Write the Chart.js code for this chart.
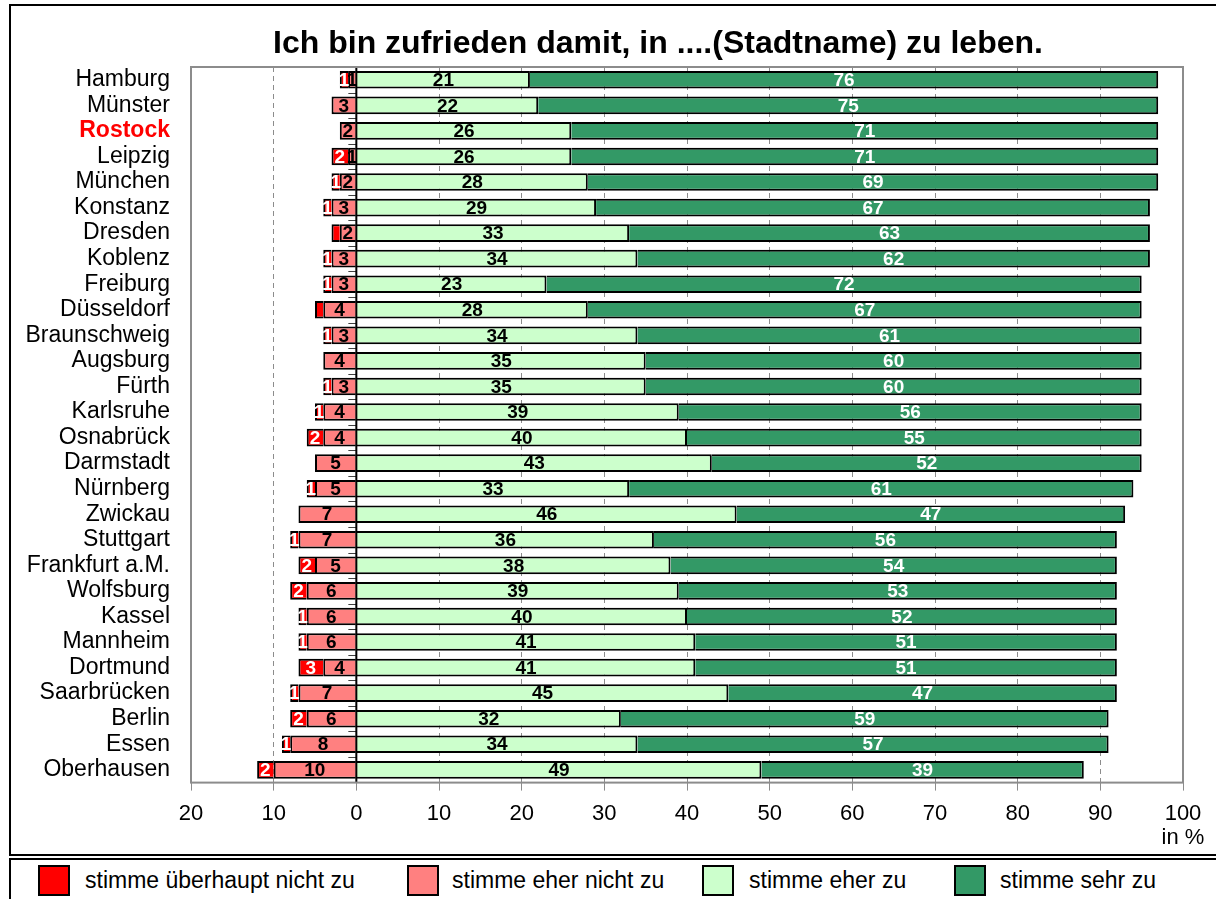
<!DOCTYPE html>
<html lang="de">
<head>
<meta charset="utf-8">
<title>Ich bin zufrieden damit, in ....(Stadtname) zu leben.</title>
<script src="https://cdn.jsdelivr.net/npm/chart.js@4.4.1/dist/chart.umd.min.js"></script>
<style>
  html, body { margin: 0; padding: 0; background: #fff; width: 1216px; height: 899px; overflow: hidden; }
  #wrap { position: relative; width: 1216px; height: 899px; overflow: hidden; font-family: "Liberation Sans", Arial, sans-serif; }
  #chart { position: absolute; left: 0; top: 0; }
  #title { position: absolute; left: 258px; width: 800px; top: 23px; text-align: center; font-weight: bold; font-size: 32px; line-height: 38px; color: #000; white-space: nowrap; }
  #frame { position: absolute; left: 9px; top: 4px; width: 1230px; height: 852px; border: 2px solid #000; box-sizing: border-box; pointer-events: none; }
  #legendBox { position: absolute; left: 9px; top: 858px; width: 1230px; height: 60px; border: 2px solid #000; box-sizing: border-box; background: #fff; }
  .swatch { position: absolute; top: 865px; width: 32px; height: 31px; border: 2px solid #000; box-sizing: border-box; }
  .legendText { position: absolute; top: 866px; font-size: 23px; line-height: 28px; color: #000; white-space: nowrap; }
</style>
</head>
<body>
<div id="wrap">
  <canvas id="chart" width="1216" height="861"></canvas>
  <div id="title"></div>
  <div id="frame"></div>
  <div id="legendBox"></div>
  <div id="legend"></div>
</div>
<script>
const FONT = '"Liberation Sans", Arial, sans-serif';

const titleText = "Ich bin zufrieden damit, in ....(Stadtname) zu leben.";
const axisUnit = "in %";
const highlightCity = "Rostock";

const cities = [
  "Hamburg", "Münster", "Rostock", "Leipzig", "München", "Konstanz", "Dresden",
  "Koblenz", "Freiburg", "Düsseldorf", "Braunschweig", "Augsburg", "Fürth",
  "Karlsruhe", "Osnabrück", "Darmstadt", "Nürnberg", "Zwickau", "Stuttgart",
  "Frankfurt a.M.", "Wolfsburg", "Kassel", "Mannheim", "Dortmund",
  "Saarbrücken", "Berlin", "Essen", "Oberhausen"
];

const seriesNames = ["stimme überhaupt nicht zu", "stimme eher nicht zu", "stimme eher zu", "stimme sehr zu"];
const seriesColors = ["#ff0000", "#ff8080", "#ccffcc", "#339966"];
const labelColors = ["#ffffff", "#000000", "#000000", "#ffffff"];

// percentages
const disagreeStrongly = [1, 0, 0, 2, 1, 1, 1, 1, 1, 1, 1, 0, 1, 1, 2, 0, 1, 0, 1, 2, 2, 1, 1, 3, 1, 2, 1, 2];
const disagreeRather   = [1, 3, 2, 1, 2, 3, 2, 3, 3, 4, 3, 4, 3, 4, 4, 5, 5, 7, 7, 5, 6, 6, 6, 4, 7, 6, 8, 10];
const agreeRather      = [21, 22, 26, 26, 28, 29, 33, 34, 23, 28, 34, 35, 35, 39, 40, 43, 33, 46, 36, 38, 39, 40, 41, 41, 45, 32, 34, 49];
const agreeStrongly    = [76, 75, 71, 71, 69, 67, 63, 62, 72, 67, 61, 60, 60, 56, 55, 52, 61, 47, 56, 54, 53, 52, 51, 51, 47, 59, 57, 39];

// segments whose value label is missing in the original
const hiddenLabels = [["Dresden", 0], ["Düsseldorf", 0]];

const xMin = -20;
const xMax = 100;
const xStep = 10;

document.getElementById("title").textContent = titleText;

// legend (html)
const legendLeft = [38, 407, 702, 954];
const legendTextLeft = [85, 452, 749, 1000];
const legendEl = document.getElementById("legend");
seriesNames.forEach((name, i) => {
  const sw = document.createElement("div");
  sw.className = "swatch";
  sw.style.left = legendLeft[i] + "px";
  sw.style.background = seriesColors[i];
  legendEl.appendChild(sw);
  const tx = document.createElement("div");
  tx.className = "legendText";
  tx.style.left = legendTextLeft[i] + "px";
  tx.textContent = name;
  legendEl.appendChild(tx);
});

function makeDataset(seriesIndex, values, negative) {
  return {
    label: seriesNames[seriesIndex],
    seriesIndex,
    data: values.map(v => (negative ? -v : v)),
    backgroundColor: seriesColors[seriesIndex],
    borderColor: "#000000",
    borderWidth: 2,
    labelColor: labelColors[seriesIndex],
    barPercentage: 0.69,
    categoryPercentage: 1.0
  };
}

const frameAndZeroLine = {
  id: "frameAndZeroLine",
  afterDatasetsDraw(chart) {
    const { ctx, chartArea: a } = chart;
    const x = chart.scales.x;
    const y = chart.scales.y;
    const x0 = x.getPixelForValue(0);

    ctx.save();
    ctx.strokeStyle = "#404040";
    ctx.lineWidth = 1;
    ctx.beginPath();
    for (let i = 1; i < cities.length; i++) {
      const yb = Math.round((y.getPixelForValue(i - 1) + y.getPixelForValue(i)) / 2) + 0.5;
      ctx.moveTo(x0 - 8, yb);
      ctx.lineTo(x0, yb);
    }
    ctx.stroke();

    ctx.strokeStyle = "#000000";
    ctx.lineWidth = 2;
    ctx.beginPath();
    ctx.moveTo(x0, a.top);
    ctx.lineTo(x0, a.bottom);
    ctx.stroke();

    ctx.strokeStyle = "#8c8c8c";
    ctx.lineWidth = 2;
    ctx.strokeRect(a.left, a.top, a.right - a.left, a.bottom - a.top);
    ctx.restore();
  }
};

const segmentLabels = {
  id: "segmentLabels",
  afterDatasetsDraw(chart) {
    const ctx = chart.ctx;
    ctx.save();
    ctx.font = "bold 19px " + FONT;
    ctx.textAlign = "center";
    ctx.textBaseline = "middle";
    chart.data.datasets.forEach((ds, di) => {
      const meta = chart.getDatasetMeta(di);
      meta.data.forEach((bar, i) => {
        const v = Math.abs(ds.data[i]);
        if (!v) return;
        if (hiddenLabels.some(h => h[0] === cities[i] && h[1] === ds.seriesIndex)) return;
        const p = bar.getCenterPoint();
        ctx.fillStyle = ds.labelColor;
        ctx.fillText(String(v), p.x, p.y + 1);
      });
    });
    ctx.restore();
  }
};

new Chart(document.getElementById("chart"), {
  type: "bar",
  data: {
    labels: cities,
    // eher-nicht first so that it sits next to zero, überhaupt-nicht stacks outside
    datasets: [
      makeDataset(1, disagreeRather, true),
      makeDataset(0, disagreeStrongly, true),
      makeDataset(2, agreeRather, false),
      makeDataset(3, agreeStrongly, false)
    ]
  },
  options: {
    indexAxis: "y",
    responsive: false,
    animation: false,
    layout: {
      padding: { left: 0, right: 33, top: 67, bottom: 0 }
    },
    plugins: {
      legend: { display: false },
      tooltip: { enabled: false },
      title: { display: false }
    },
    scales: {
      x: {
        stacked: true,
        min: xMin,
        max: xMax,
        ticks: {
          stepSize: xStep,
          autoSkip: false,
          maxRotation: 0,
          color: "#000000",
          padding: 11,
          font: { family: FONT, size: 22, lineHeight: 1.1 },
          callback: (value) => (value === xMax ? [String(value), axisUnit] : String(Math.abs(value)))
        },
        grid: {
          color: "#8c8c8c",
          lineWidth: 1,
          drawTicks: true,
          tickLength: 8,
          tickColor: "#8c8c8c",
          tickBorderDash: []
        },
        border: { display: false, dash: [5, 4] }
      },
      y: {
        stacked: true,
        afterFit: (scale) => { scale.width = 191; },
        ticks: {
          autoSkip: false,
          padding: 21,
          color: (c) => (cities[c.index] === highlightCity ? "#ff0000" : "#000000"),
          font: (c) => ({
            family: FONT,
            size: 23,
            lineHeight: 1.0,
            weight: cities[c.index] === highlightCity ? "bold" : "normal"
          })
        },
        grid: { display: false, drawTicks: false },
        border: { display: false }
      }
    }
  },
  plugins: [frameAndZeroLine, segmentLabels]
});
</script>
</body>
</html>
